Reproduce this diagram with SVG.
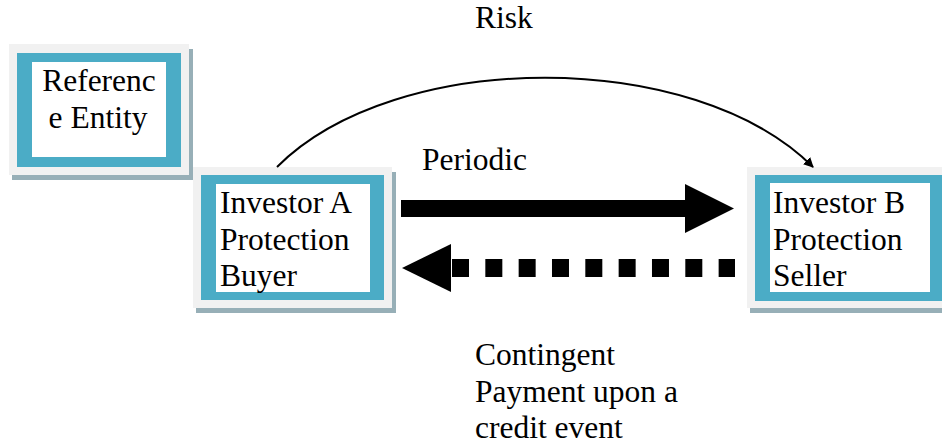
<svg xmlns="http://www.w3.org/2000/svg" width="942" height="448" viewBox="0 0 942 448">
<style>
.shadow{fill:#97afb7}
.outer{fill:#f1f1f1}
.teal{fill:#4bacc6}
.inner{fill:#ffffff}
</style>
<defs>
<marker id="ah" viewBox="0 0 10 10" refX="9" refY="5" markerWidth="10" markerHeight="10" markerUnits="userSpaceOnUse" orient="auto">
<path d="M0,0 L10,5 L0,10 Z" fill="#000"/>
</marker>
</defs>
<rect width="942" height="448" fill="#fff"/>
<g font-family="Liberation Serif, Times New Roman, serif" font-size="31.5" fill="#000">
<g id="reference-entity">
<rect class="shadow" x="12" y="49" width="181" height="131"/>
<rect class="outer" x="9" y="44" width="180" height="131"/>
<rect class="teal" x="17" y="53" width="164" height="114"/>
<rect class="inner" x="32" y="62" width="134" height="95"/>
<text x="99" y="91" text-anchor="middle">Referenc</text>
<text x="98" y="128" text-anchor="middle">e Entity</text>
</g>
<g id="investor-a">
<rect class="shadow" x="196" y="172" width="200" height="141"/>
<rect class="outer" x="193" y="167" width="199" height="141"/>
<rect class="teal" x="201" y="175" width="183" height="125"/>
<rect class="inner" x="216" y="184" width="154" height="108"/>
<text x="220" y="213">Investor A</text>
<text x="220" y="250">Protection</text>
<text x="220" y="286">Buyer</text>
</g>
<g id="investor-b">
<rect class="shadow" x="750" y="172" width="200" height="141"/>
<rect class="outer" x="747" y="167" width="203" height="141"/>
<rect class="teal" x="755" y="175" width="190" height="126"/>
<rect class="inner" x="770" y="183" width="160" height="109"/>
<text x="773" y="213">Investor B</text>
<text x="773" y="250">Protection</text>
<text x="773" y="286">Seller</text>
</g>
<g id="connectors">
<path d="M277,167 C396,48 694,48 813,167" fill="none" stroke="#000" stroke-width="2" marker-end="url(#ah)"/>
<path d="M401,200 H685 V184 L734,208.5 L685,233 V217 H401 Z" fill="#000"/>
<path d="M402,268 L451,244 V292 Z" fill="#000"/>
<line x1="452" y1="268" x2="735" y2="268" stroke="#000" stroke-width="18" stroke-dasharray="17 16.33"/>
</g>
<g id="labels">
<text x="475" y="28">Risk</text>
<text x="422" y="170">Periodic</text>
<text x="475" y="365">Contingent</text>
<text x="475" y="402">Payment upon a</text>
<text x="475" y="438">credit event</text>
</g>
</g>
</svg>
